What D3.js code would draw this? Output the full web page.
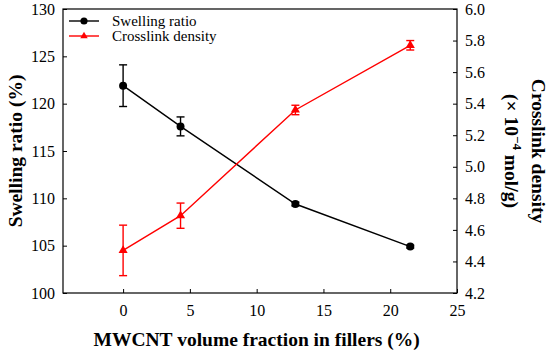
<!DOCTYPE html>
<html lang="en">
<head>
    <meta charset="UTF-8">
    <title>Swelling ratio and crosslink density</title>
    <script src="https://d3js.org/d3.v7.min.js"></script>
    <style>
        body { margin: 0; background: #fff; }
    </style>
</head>
<body>
    <svg id="graph" width="550" height="352"></svg>
    <script>
        // data
        const fraction = [0, 4.3, 12.9, 21.5];
        const swelling = [121.9, 117.6, 109.4, 104.9];
        const swellingErr = [2.2, 1.0, 0.2, 0.15];
        const crosslink = [4.47, 4.69, 5.36, 5.77];
        const crosslinkErr = [0.16, 0.08, 0.03, 0.03];
        const xTicks = [0, 5, 10, 15, 20, 25];
        const yLeftTicks = [100, 105, 110, 115, 120, 125, 130];
        const yRightTicks = [4.2, 4.4, 4.6, 4.8, 5.0, 5.2, 5.4, 5.6, 5.8, 6.0];

        const serif = "'Liberation Serif'";

        const svg = d3.select("#graph").style("font-family", serif);
        const margin = { top: 9, right: 93, bottom: 59, left: 63 };
        const width = 550 - margin.left - margin.right;
        const height = 352 - margin.top - margin.bottom;

        const x = d3.scaleLinear().domain([-4.5, 25]).range([0, width]);
        const yL = d3.scaleLinear().domain([100, 130]).range([height, 0]);
        const yR = d3.scaleLinear().domain([4.2, 6.0]).range([height, 0]);

        const g = svg.append("g").attr("transform", "translate(" + margin.left + "," + margin.top + ")");

        // frame
        g.append("rect").attr("width", width).attr("height", height)
            .attr("fill", "none").attr("stroke", "#000").attr("stroke-width", 1.2);

        const styleAxis = sel => {
            sel.style("font-family", serif);
            sel.select(".domain").remove();
            sel.selectAll("line").attr("stroke", "#000");
            sel.selectAll("text").style("font-family", serif).attr("font-size", 16).attr("fill", "#000");
        };

        g.append("g").attr("transform", "translate(0," + height + ")")
            .call(d3.axisBottom(x).tickValues(xTicks).tickSizeInner(-4).tickPadding(12).tickFormat(d3.format("d")))
            .call(styleAxis);

        g.append("g")
            .call(d3.axisLeft(yL).tickValues(yLeftTicks).tickSizeInner(-4).tickPadding(8).tickFormat(d3.format("d")))
            .call(styleAxis);

        g.append("g").attr("transform", "translate(" + width + ",0)")
            .call(d3.axisRight(yR).tickValues(yRightTicks).tickSizeInner(-4).tickPadding(8).tickFormat(d3.format(".1f")))
            .call(styleAxis);

        // axis titles
        svg.append("text")
            .attr("x", margin.left + x(10)).attr("y", 346)
            .attr("text-anchor", "middle").attr("font-size", 19.5).attr("font-weight", "bold")
            .style("font-family", serif)
            .text("MWCNT volume fraction in fillers (%)");

        svg.append("text")
            .attr("transform", "translate(22," + (margin.top + height / 2) + ") rotate(-90)")
            .attr("text-anchor", "middle").attr("font-size", 19.5).attr("font-weight", "bold")
            .style("font-family", serif)
            .text("Swelling ratio (%)");

        const rightLabel = svg.append("text")
            .attr("transform", "translate(532," + (margin.top + height / 2) + ") rotate(90)")
            .attr("text-anchor", "middle").attr("font-size", 19.5).attr("font-weight", "bold")
            .style("font-family", serif);
        rightLabel.append("tspan").attr("x", 0).attr("dy", 0).text("Crosslink density");
        const t2 = rightLabel.append("tspan").attr("x", 0).attr("dy", 27);
        t2.append("tspan").text("(× 10");
        t2.append("tspan").attr("dy", -8).attr("font-size", 13).text("−4");
        t2.append("tspan").attr("dy", 8).text(" mol/g)");

        // series
        const series = [
            { name: "Swelling ratio", color: "#000", y: yL, vals: swelling, err: swellingErr, marker: "circle" },
            { name: "Crosslink density", color: "#ff0000", y: yR, vals: crosslink, err: crosslinkErr, marker: "triangle" }
        ];

        series.forEach(s => {
            const pts = fraction.map((f, i) => ({ f: f, v: s.vals[i], e: s.err[i] }));
            const line = d3.line().x(d => x(d.f)).y(d => s.y(d.v));
            g.append("path").datum(pts).attr("d", line)
                .attr("fill", "none").attr("stroke", s.color).attr("stroke-width", 1.4);

            const eb = g.append("g").attr("stroke", s.color).attr("stroke-width", 1.4);
            pts.forEach(d => {
                const y0 = s.y(d.v - d.e), y1 = s.y(d.v + d.e);
                eb.append("line").attr("x1", x(d.f)).attr("x2", x(d.f)).attr("y1", y0).attr("y2", y1);
                eb.append("line").attr("x1", x(d.f) - 4).attr("x2", x(d.f) + 4).attr("y1", y0).attr("y2", y0);
                eb.append("line").attr("x1", x(d.f) - 4).attr("x2", x(d.f) + 4).attr("y1", y1).attr("y2", y1);
            });

            const sym = d3.symbol().type(s.marker === "circle" ? d3.symbolCircle : d3.symbolTriangle)
                .size(s.marker === "circle" ? 50 : 36);
            g.selectAll(null).data(pts).join("path")
                .attr("d", sym)
                .attr("transform", d => "translate(" + x(d.f) + "," + s.y(d.v) + ")")
                .attr("fill", s.color);
        });

        // legend
        const legend = g.append("g").attr("transform", "translate(6,12)");
        series.forEach((s, i) => {
            const row = legend.append("g").attr("transform", "translate(0," + i * 15 + ")");
            row.append("line").attr("x1", 0).attr("x2", 30).attr("stroke", s.color).attr("stroke-width", 1.4);
            row.append("path")
                .attr("d", d3.symbol().type(s.marker === "circle" ? d3.symbolCircle : d3.symbolTriangle)
                    .size(s.marker === "circle" ? 40 : 24))
                .attr("transform", "translate(15,0)").attr("fill", s.color);
            row.append("text").attr("x", 43).attr("y", 0).attr("dy", "0.35em")
                .style("font-family", serif)
                .attr("font-size", 15).text(s.name);
        });
    </script>
</body>
</html>
